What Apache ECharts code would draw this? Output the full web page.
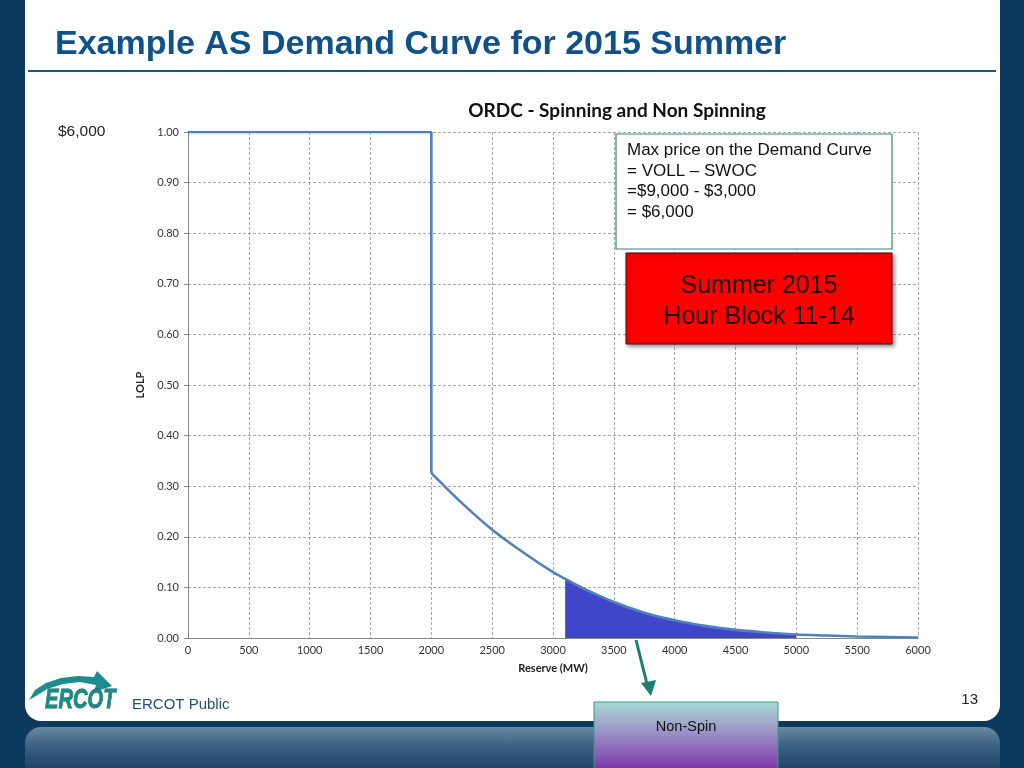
<!DOCTYPE html>
<html>
<head>
<meta charset="utf-8">
<script src="https://cdn.jsdelivr.net/npm/echarts@6/dist/echarts.min.js"></script>
<style>
  html, body { margin: 0; padding: 0; width: 1024px; height: 768px; overflow: hidden; background: #0c3a5f; }
  #panel { position: absolute; left: 25px; top: 0; width: 975px; height: 721px; background: #ffffff; border-radius: 0 0 16px 16px; }
  #bar { position: absolute; left: 25px; top: 727px; width: 975px; height: 60px; border-radius: 16px 16px 0 0;
         background: linear-gradient(#6a8aa3 0%, #3d6282 30%, #1d4567 70%, #133a5a 100%); }
  #chart { position: absolute; left: 0; top: 0; width: 1024px; height: 768px; }
</style>
</head>
<body>
<div id="panel"></div>
<div id="bar"></div>
<div id="chart"></div>
<script>
// ---- data ----
const reserveMW = [0, 2000, 2000, 2250, 2500, 2750, 3000, 3100, 3250, 3500, 3750, 4000, 4250, 4500, 4750, 5000, 5250, 5500, 5750, 6000];
const lolp      = [1.00, 1.00, 0.326, 0.267, 0.214, 0.170, 0.130, 0.117, 0.098, 0.071, 0.050, 0.035, 0.024, 0.016, 0.011, 0.007, 0.005, 0.003, 0.002, 0.001];
const nonSpinStart = 3100;
const nonSpinEnd = 5000;
const xTicks = [0, 500, 1000, 1500, 2000, 2500, 3000, 3500, 4000, 4500, 5000, 5500, 6000];
const yTicks = [0.0, 0.1, 0.2, 0.3, 0.4, 0.5, 0.6, 0.7, 0.8, 0.9, 1.0];

const curve = reserveMW.map((x, i) => [x, lolp[i]]);
const stepPart = curve.slice(0, 3);
const decayPart = curve.slice(2);
const shaded = curve.filter(p => p[0] >= nonSpinStart && p[0] <= nonSpinEnd);

const chart = echarts.init(document.getElementById('chart'), null, { renderer: 'canvas' });
const lab = { fontFamily: 'Lato, "Open Sans", sans-serif', fontSize: 11, color: '#333' };
const arial = '"Liberation Sans", Arial, sans-serif';

chart.setOption({
  backgroundColor: 'transparent',
  animation: false,
  grid: { left: 188, right: 106, top: 132, bottom: 130 },
  xAxis: {
    type: 'value', min: 0, max: 6000, interval: 500,
    name: 'Reserve (MW)', nameLocation: 'middle', nameGap: 25,
    nameTextStyle: { fontFamily: lab.fontFamily, fontSize: 11, fontWeight: 'bold', color: '#222' },
    axisLine: { show: true, lineStyle: { color: '#888', width: 1 } },
    axisTick: { show: false },
    axisLabel: Object.assign({ margin: 7, formatter: v => String(v) }, lab),
    splitLine: { show: true, lineStyle: { color: '#a8a8a8', type: [3, 2], width: 1 } }
  },
  yAxis: {
    type: 'value', min: 0, max: 1, interval: 0.1,
    name: 'LOLP', nameLocation: 'middle', nameGap: 36, nameRotate: 90,
    nameTextStyle: { fontFamily: lab.fontFamily, fontSize: 11, fontWeight: 'bold', color: '#222' },
    axisLine: { show: true, lineStyle: { color: '#888', width: 1 } },
    axisTick: { show: true, length: 4, lineStyle: { color: '#888' } },
    axisLabel: Object.assign({ margin: 9, formatter: v => v.toFixed(2) }, lab),
    splitLine: { show: true, lineStyle: { color: '#a8a8a8', type: [3, 2], width: 1 } }
  },
  series: [
    {
      type: 'line', data: shaded, symbol: 'none', smooth: 0.3,
      lineStyle: { width: 0 },
      areaStyle: { color: '#3f47c8', opacity: 1 },
      z: 2
    },
    {
      type: 'line', data: stepPart, symbol: 'none', smooth: false,
      lineStyle: { color: '#4f81bd', width: 2.6 },
      z: 3
    },
    {
      type: 'line', data: decayPart, symbol: 'none', smooth: 0.3,
      lineStyle: { color: '#4f81bd', width: 2.6 },
      z: 3
    }
  ],
  graphic: [
    { type: 'text', x: 55, y: 45, z: 50,
      style: { text: 'Example AS Demand Curve for 2015 Summer', fill: '#0f5189', textVerticalAlign: 'middle',
               font: 'bold 34px ' + arial } },
    { type: 'rect', shape: { x: 28, y: 70, width: 968, height: 2 }, style: { fill: '#1b5583' }, z: 50 },
    { type: 'text', x: 58, y: 132, z: 50,
      style: { text: '$6,000', fill: '#222', textVerticalAlign: 'middle', font: '15.5px ' + arial } },
    { type: 'text', x: 617, y: 111, z: 50,
      style: { text: 'ORDC - Spinning and Non Spinning', fill: '#111', textAlign: 'center', textVerticalAlign: 'middle',
               font: 'bold 19px Lato, "Open Sans", sans-serif' } },
    { type: 'rect', shape: { x: 616, y: 134, width: 276, height: 115 }, z: 60,
      style: { fill: '#ffffff', stroke: '#2e8b7c', lineWidth: 1.2 } },
    { type: 'text', x: 627, y: 140, z: 61,
      style: { text: 'Max price on the Demand Curve\n= VOLL \u2013 SWOC\n=$9,000 - $3,000\n= $6,000', fill: '#111',
               lineHeight: 20.7, font: '17px ' + arial } },
    { type: 'rect', shape: { x: 626, y: 253, width: 266, height: 91 }, z: 60,
      style: { fill: '#ff0000', stroke: '#5a0000', lineWidth: 1, shadowBlur: 4, shadowOffsetX: 2, shadowOffsetY: 2, shadowColor: 'rgba(0,0,0,0.45)' } },
    { type: 'text', x: 759, y: 302, z: 61,
      style: { text: 'Summer 2015\nHour Block 11-14', fill: '#1a0000', textAlign: 'center', textVerticalAlign: 'middle',
               lineHeight: 31, font: '25px ' + arial } },
    { type: 'line', shape: { x1: 636, y1: 640, x2: 648, y2: 688 }, z: 60,
      style: { stroke: '#17806e', lineWidth: 3 } },
    { type: 'polygon', shape: { points: [[641, 683], [656, 680], [651, 696]] }, z: 60,
      style: { fill: '#17806e' } },
    { type: 'rect', shape: { x: 594, y: 702, width: 184, height: 70 }, z: 60,
      style: { fill: new echarts.graphic.LinearGradient(0, 0, 0, 1, [
                 { offset: 0, color: '#a9dcd3' }, { offset: 0.45, color: '#9a8fc6' }, { offset: 1, color: '#7a2ea6' }]),
               stroke: '#3a9a8a', lineWidth: 1 } },
    { type: 'text', x: 686, y: 727, z: 61,
      style: { text: 'Non-Spin', fill: '#111', textAlign: 'center', textVerticalAlign: 'middle',
               font: '14.5px ' + arial } },
    { type: 'text', x: 132, y: 705, z: 50,
      style: { text: 'ERCOT Public', fill: '#1f4e79', textVerticalAlign: 'middle', font: '15px ' + arial } },
    { type: 'text', x: 978, y: 700, z: 50,
      style: { text: '13', fill: '#222', textAlign: 'right', textVerticalAlign: 'middle', font: '15px ' + arial } },
    { type: 'polygon', z: 50,
      shape: { points: [[29, 700], [35, 690], [46, 683], [61, 678], [78, 676], [94, 677], [97, 671], [112, 686], [94, 692], [96, 685], [80, 682], [63, 684], [47, 689], [36, 696]] },
      style: { fill: '#1c8c8c' } },
    { type: 'text', x: 45, y: 700, z: 51, scaleX: 0.72, originX: 0, originY: 0,
      style: { text: 'ERCOT', fill: '#1a8c88', textVerticalAlign: 'middle', font: 'italic bold 28px ' + arial,
               stroke: '#0b5d5a', lineWidth: 0.8 } }
  ]
});
</script>
</body>
</html>
